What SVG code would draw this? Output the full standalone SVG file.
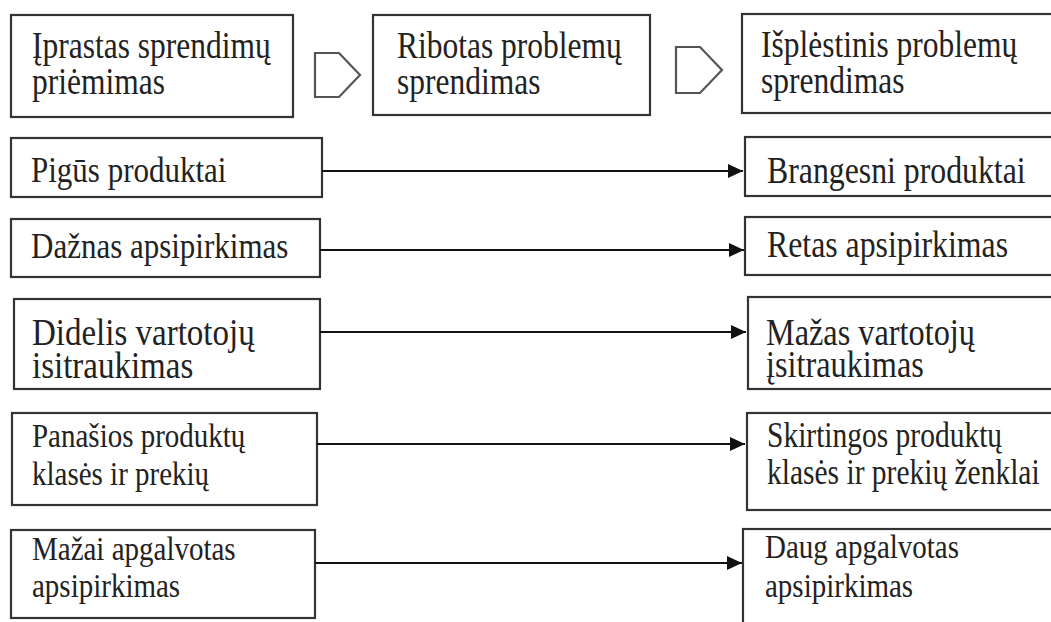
<svg xmlns="http://www.w3.org/2000/svg" width="1051" height="622" viewBox="0 0 1051 622">
  <defs>
    <marker id="arrow" markerWidth="16" markerHeight="14" refX="15" refY="7" orient="auto" markerUnits="userSpaceOnUse">
      <path d="M0,0 L15,7 L0,14 Z" fill="#111"/>
    </marker>
    <style>
      .box { fill: #fff; stroke: #333; stroke-width: 2.2; }
      .chev { fill: none; stroke: #555; stroke-width: 2.2; stroke-linejoin: miter; }
      .lbl { font-family: "Liberation Serif", "Times New Roman", serif; font-size: 31px; fill: #222; }
      .hd { font-size: 31.5px; }
      .sm { font-size: 29px; }
      .link { stroke: #111; stroke-width: 2.2; fill: none; marker-end: url(#arrow); }
    </style>
  </defs>
  <rect width="1051" height="622" fill="#fff"/>

  <!-- stage headers -->
  <g id="stage-routine">
    <rect class="box" x="11" y="15" width="282" height="102"/>
    <text class="lbl hd" transform="translate(32,58) scale(1,1.22)"><tspan x="0" y="0">Įprastas sprendimų</tspan><tspan x="0" y="29.5">priėmimas</tspan></text>
  </g>
  <g id="chevron-1">
    <polygon class="chev" points="315,53 339,53 360,75 339,97 315,97"/>
  </g>
  <g id="stage-limited">
    <rect class="box" x="373" y="15" width="277" height="100"/>
    <text class="lbl hd" transform="translate(397,58) scale(1,1.22)"><tspan x="0" y="0">Ribotas problemų</tspan><tspan x="0" y="29.5">sprendimas</tspan></text>
  </g>
  <g id="chevron-2">
    <polygon class="chev" points="676,47 700,47 722,70 700,93 676,93"/>
  </g>
  <g id="stage-extended">
    <rect class="box" x="742" y="14" width="320" height="99"/>
    <text class="lbl hd" transform="translate(761,57) scale(1,1.22)"><tspan x="0" y="0">Išplėstinis problemų</tspan><tspan x="0" y="29.5">sprendimas</tspan></text>
  </g>

  <!-- left column -->
  <g id="cheap-products">
    <rect class="box" x="11" y="138" width="311" height="59"/>
    <text class="lbl" transform="translate(31,182) scale(1,1.18)">Pigūs produktai</text>
  </g>
  <g id="frequent-buying">
    <rect class="box" x="11" y="219" width="309" height="58"/>
    <text class="lbl" transform="translate(31,258) scale(1,1.18)">Dažnas apsipirkimas</text>
  </g>
  <g id="high-involvement">
    <rect class="box" x="14" y="299" width="306" height="90"/>
    <text class="lbl" style="font-size:33px" transform="translate(32,345) scale(1,1.15)"><tspan x="0" y="0">Didelis vartotojų</tspan><tspan x="0" y="29">isitraukimas</tspan></text>
  </g>
  <g id="similar-classes">
    <rect class="box" x="12" y="413" width="305" height="92"/>
    <text class="lbl sm" transform="translate(32,447) scale(1,1.18)"><tspan x="0" y="0">Panašios produktų</tspan><tspan x="0" y="32">klasės ir prekių</tspan></text>
  </g>
  <g id="little-thought">
    <rect class="box" x="11" y="530" width="304" height="88"/>
    <text class="lbl sm" transform="translate(32,560) scale(1,1.18)"><tspan x="0" y="0">Mažai apgalvotas</tspan><tspan x="0" y="31">apsipirkimas</tspan></text>
  </g>

  <!-- right column -->
  <g id="pricier-products">
    <rect class="box" x="745" y="137" width="320" height="59"/>
    <text class="lbl" style="font-size:31.8px" transform="translate(767,183) scale(1,1.16)">Brangesni produktai</text>
  </g>
  <g id="rare-buying">
    <rect class="box" x="745" y="217" width="320" height="58"/>
    <text class="lbl" style="font-size:31.8px" transform="translate(767,257) scale(1,1.16)">Retas apsipirkimas</text>
  </g>
  <g id="low-involvement">
    <rect class="box" x="748" y="297" width="320" height="92"/>
    <text class="lbl" style="font-size:32.3px" transform="translate(766,345) scale(1,1.16)"><tspan x="0" y="0">Mažas vartotojų</tspan><tspan x="0" y="28">įsitraukimas</tspan></text>
  </g>
  <g id="different-classes">
    <rect class="box" x="747" y="413" width="320" height="97"/>
    <text class="lbl sm" style="font-size:29.5px" transform="translate(767,447) scale(1,1.18)"><tspan x="0" y="0">Skirtingos produktų</tspan><tspan x="0" y="31">klasės ir prekių ženklai</tspan></text>
  </g>
  <g id="much-thought">
    <rect class="box" x="743" y="529" width="320" height="100"/>
    <text class="lbl sm" transform="translate(765,558) scale(1,1.18)"><tspan x="0" y="0">Daug apgalvotas</tspan><tspan x="0" y="33">apsipirkimas</tspan></text>
  </g>

  <!-- connectors -->
  <g id="connectors">
    <line class="link" x1="322" y1="171" x2="743" y2="171"/>
    <line class="link" x1="320" y1="250" x2="744" y2="250"/>
    <line class="link" x1="320" y1="332" x2="746" y2="332"/>
    <line class="link" x1="317" y1="444" x2="745" y2="444"/>
    <line class="link" x1="315" y1="563" x2="742" y2="563"/>
  </g>
</svg>
